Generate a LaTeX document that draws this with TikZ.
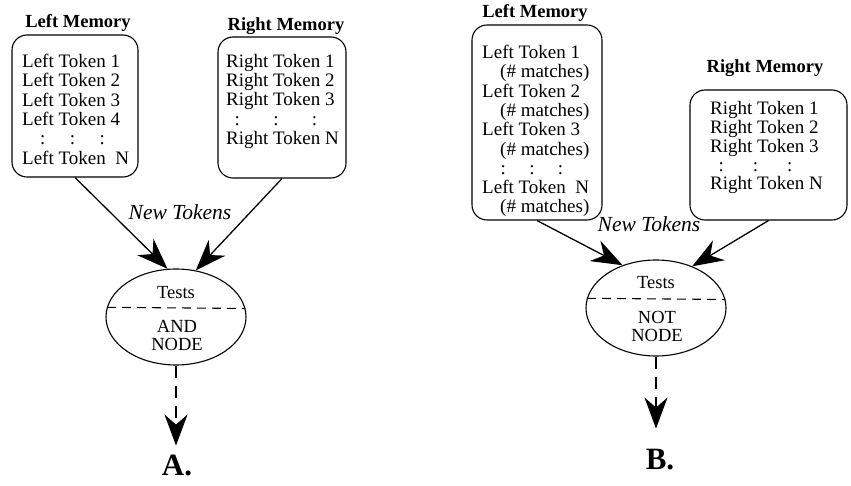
\documentclass[tikz,border=0pt]{standalone}
\usepackage{fontspec}
\setmainfont{Liberation Serif}
\usetikzlibrary{arrows.meta,shapes,positioning,calc}

\tikzset{
  memhead/.style={font=\fontsize{18.5}{20}\selectfont\bfseries, anchor=base, inner sep=0pt},
  membox/.style={draw, line width=1.1pt, rounded corners=15pt, inner sep=0pt},
  memtext/.style={anchor=north west, align=left, inner sep=0pt, font=\fontsize{19}{19.3}\selectfont},
  testnode/.style={draw, ellipse, line width=1.1pt, inner sep=0pt, minimum width=140pt, minimum height=96pt},
  testtext/.style={align=center, inner sep=0pt, font=\fontsize{18.5}{18}\selectfont},
  newlbl/.style={font=\fontsize{21.5}{22}\selectfont\itshape},
  caplbl/.style={font=\fontsize{31}{32}\selectfont\bfseries},
  feed/.style={line width=1.3pt, -{Stealth[length=31pt,width=23pt,inset=10pt]}},
  result/.style={feed, dash pattern=on 12pt off 8pt},
}

\begin{document}
\begin{tikzpicture}[x=1pt,y=-1pt]
			\useasboundingbox (0,0) rectangle (851,486);

			% A. -- AND node
			\node[memhead] (lheadA) at (78,28) {Left Memory};
			\node[membox, minimum width=126pt, minimum height=142pt] (lmemA) at (75,106) {};
			\node[memtext] (ltokA) at (22,54) {Left Token 1\\Left Token 2\\Left Token 3\\Left Token 4\\
				\hspace*{18pt}:\hspace{24.4pt}:\hspace{24.4pt}:\\Left Token\ \ N};

			\node[memhead] (rheadA) at (286,31) {Right Memory};
			\node[membox, minimum width=128pt, minimum height=141pt] (rmemA) at (282,107.5) {};
			\node[memtext] (rtokA) at (226,54) {Right Token 1\\Right Token 2\\Right Token 3\\
				\hspace*{8.4pt}:\hspace{33.4pt}:\hspace{33.4pt}:\\Right Token N};

			\node[newlbl] (newA) at (180,212) {New Tokens};

			\node[testnode] (andA) at (176,317) {};
			\draw[line width=1.1pt, dash pattern=on 9pt off 6pt] (andA.172.5) -- (andA.7.5);
			\node[testtext] (testsA) at (176,293) {Tests};
			\node[testtext] (kindA) at (177,335) {AND\\NODE};

			\draw[feed] (lmemA.south) -- (andA.100.8);
			\draw[feed] (rmemA.south) -- (andA.67.6);

			\coordinate (outA) at ($(andA.south)+(0,80)$);
			\draw[result] (andA.south) -- (outA);
			\node[caplbl] (capA) at (177,465) {A.};

			% B. -- NOT node
			\node[memhead] (lheadB) at (535,18) {Left Memory};
			\node[membox, minimum width=130pt, minimum height=195pt] (lmemB) at (537,122.5) {};
			\node[memtext] (ltokB) at (482,45) {Left Token 1\\\hspace*{18pt}(\# matches)\\
				Left Token 2\\\hspace*{18pt}(\# matches)\\
				Left Token 3\\\hspace*{18pt}(\# matches)\\
				\hspace*{18.4pt}:\hspace{23.4pt}:\hspace{23.4pt}:\\
				Left Token\ \ N\\\hspace*{18pt}(\# matches)};

			\node[memhead] (rheadB) at (765,73) {Right Memory};
			\node[membox, minimum width=157pt, minimum height=130pt] (rmemB) at (768.5,155) {};
			\node[memtext, font=\fontsize{19}{18.75}\selectfont] (rtokB) at (710,101.5) {Right Token 1\\Right Token 2\\Right Token 3\\
				\hspace*{8.4pt}:\hspace{29pt}:\hspace{29pt}:\\Right Token N};

			\node[newlbl] (newB) at (649,224) {New Tokens};

			\node[testnode] (notB) at (656,308) {};
			\draw[line width=1.1pt, dash pattern=on 9pt off 6pt] (notB.172.5) -- (notB.7.5);
			\node[testtext] (testsB) at (656,283) {Tests};
			\node[testtext] (kindB) at (657,326) {NOT\\NODE};

			\draw[feed] (lmemB.south) -- (notB.128.7);
			\draw[feed] (rmemB.south) -- (notB.49.5);

			\coordinate (outB) at ($(notB.south)+(0,72)$);
			\draw[result] (notB.south) -- (outB);
			\node[caplbl] (capB) at (660,460) {B.};
		\end{tikzpicture}
\end{document}
